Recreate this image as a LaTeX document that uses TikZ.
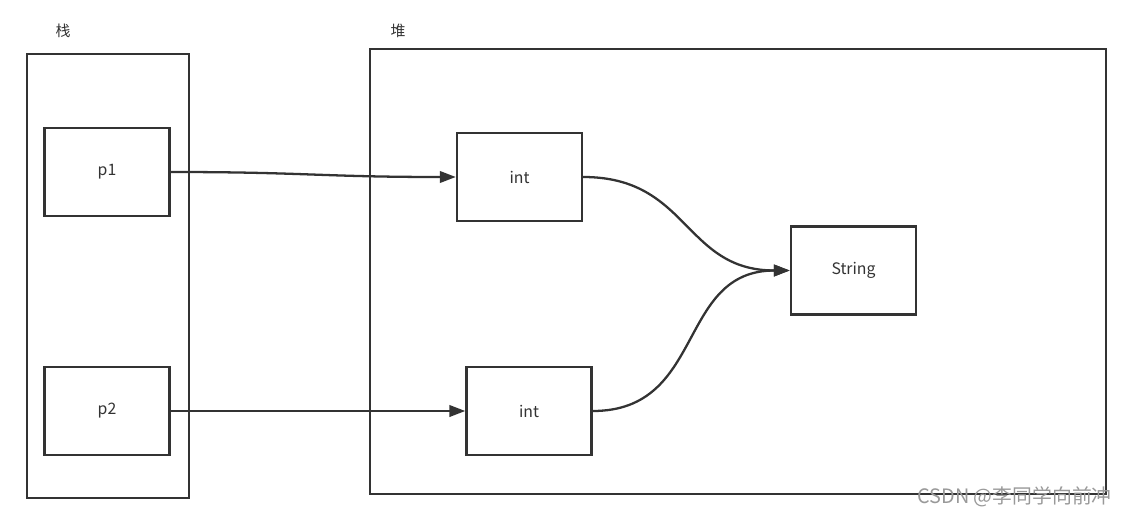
\documentclass[tikz,border=0pt]{standalone}
\usepackage{fontspec}
\setmainfont{Noto Sans CJK SC}
\usetikzlibrary{arrows.meta}
\definecolor{linegray}{HTML}{333333}
\tikzstyle{frame}=[draw=linegray,line width=1.4pt,inner sep=0pt]
\tikzstyle{box}=[frame,minimum width=2.5cm,minimum height=1.76cm,font=\fontsize{9}{11}\selectfont,text=linegray]
\tikzstyle{title}=[font=\fontsize{8.5}{10}\selectfont,text=linegray]
\tikzstyle{edge}=[draw=linegray,line width=1.3pt,-{Triangle[length=9pt,width=6.5pt]}]

\begin{document}
\begin{tikzpicture}[x=0.02cm,y=-0.02cm]
\useasboundingbox (0,0) rectangle (1132,517);
% outer frames
\node[frame,minimum width=3.24cm,minimum height=8.88cm] (stack) at (108,276) {};
\node[frame,minimum width=14.72cm,minimum height=8.9cm] (heap) at (738,271.5) {};
\node[title] (stacklabel) at (63,31) {栈};
\node[title] (heaplabel) at (398,31) {堆};
\foreach \pos/\name/\text in {{(107,172)/p1/p1}, {(107,411)/p2/p2},
                              {(519.5,177)/int1/int}, {(529,411)/int2/int},
                              {(853.5,270.5)/String/String}}{
  \node[box] (\name) at \pos {\text};
}
\foreach \source/\dest in {p1/int1, p2/int2, int1/String, int2/String}{
  \path[edge] (\source.east) to[out=0,in=180,looseness=1.2] (\dest.west);
}
\node[anchor=east,text=black!40,font=\fontsize{11.3}{13}\selectfont] (mark) at (1118,497) {CSDN @李同学向前冲};
\end{tikzpicture}
\end{document}
